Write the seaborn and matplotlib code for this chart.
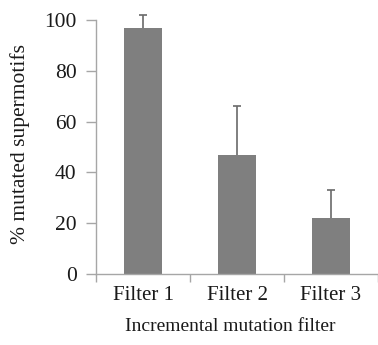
import matplotlib
matplotlib.use("Agg")
import matplotlib.pyplot as plt
import seaborn as sns
import pandas as pd

# Share of supermotifs mutated under each incremental filter
filters = ["Filter 1", "Filter 2", "Filter 3"]
mutated_pct = [97, 47, 22]
upper_err = [5, 19, 11]
y_ticks = [0, 20, 40, 60, 80, 100]

df = pd.DataFrame({"filter": filters, "pct": mutated_pct})

sns.set_theme(style="white")
plt.rcParams["font.family"] = ["Liberation Serif", "DejaVu Serif"]

fig = plt.figure(figsize=(3.78, 3.45), dpi=100)
ax = fig.add_axes([0.254, 0.206, 0.746, 0.736])

bar_color = "#7f7f7f"
sns.barplot(data=df, x="filter", y="pct", color=bar_color, width=0.4,
            saturation=1, errorbar=None, ax=ax, zorder=2)
for p in ax.patches:
    p.set_edgecolor("none")

# one-sided (upper) error bars
eb = ax.errorbar(range(len(filters)), mutated_pct,
                 yerr=[[0] * len(filters), upper_err], fmt="none",
                 ecolor="#6a6a6a", elinewidth=1.2, capsize=3, capthick=1.2,
                 clip_on=False, zorder=3)
eb[1][0].set_visible(False)  # hide the cap sitting on the bar top

ax.set_xlim(-0.5, 2.5)
ax.set_ylim(0, 100)
ax.set_yticks(y_ticks)
ax.set_yticklabels([str(t) for t in y_ticks])

for side in ["top", "right"]:
    ax.spines[side].set_visible(False)
for side in ["left", "bottom"]:
    ax.spines[side].set_color("#a6a6a6")
    ax.spines[side].set_linewidth(1.0)
    ax.spines[side].set_clip_on(False)

ax.tick_params(axis="y", which="major", direction="out", length=7, width=1.0,
               color="#a6a6a6", left=True, labelsize=15.5, labelcolor="#1a1a1a", pad=7)
ax.tick_params(axis="x", which="major", length=0, labelsize=15,
               labelcolor="#1a1a1a", pad=9)
ax.set_xticks([-0.5, 0.5, 1.5, 2.5], minor=True)
ax.tick_params(axis="x", which="minor", direction="out", length=6, width=1.0,
               color="#a6a6a6", bottom=True)

ax.set_xlabel("Incremental mutation filter", fontsize=14, color="#1a1a1a")
ax.xaxis.set_label_coords(0.475, -0.175)
ax.set_ylabel("% mutated supermotifs", fontsize=15.5, color="#1a1a1a")
ax.yaxis.set_label_coords(-0.235, 0.51)

fig.savefig("out.png", dpi=100)
